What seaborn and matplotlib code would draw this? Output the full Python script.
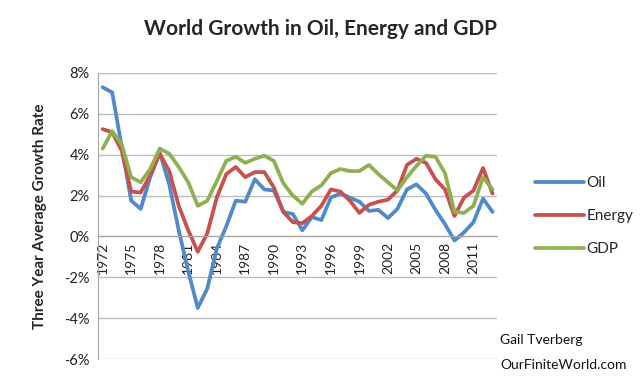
import numpy as np
import pandas as pd
import matplotlib
matplotlib.use("Agg")
import matplotlib.pyplot as plt
import seaborn as sns

# values (three year average growth, %)
years = list(range(1972, 2014))
oil = [7.3, 7.05, 4.4, 1.75, 1.35, 2.9, 4.1, 2.55, 0.3, -1.7,
       -3.5, -2.55, -0.6, 0.5, 1.75, 1.7, 2.8, 2.3, 2.25, 1.2,
       1.1, 0.3, 0.95, 0.8, 1.9, 2.1, 1.9, 1.7, 1.25, 1.3,
       0.9, 1.35, 2.3, 2.55, 2.1, 1.3, 0.6, -0.2, 0.2, 0.7,
       1.85, 1.2]
energy = [5.25, 5.1, 4.2, 2.2, 2.15, 3.0, 4.05, 3.2, 1.5, 0.3,
          -0.75, 0.15, 1.9, 3.05, 3.4, 2.9, 3.15, 3.15, 2.4, 1.2,
          0.7, 0.65, 1.0, 1.5, 2.3, 2.2, 1.75, 1.15, 1.55, 1.7,
          1.8, 2.25, 3.5, 3.8, 3.6, 2.8, 2.3, 1.0, 1.9, 2.25,
          3.35, 2.1]
gdp = [4.3, 5.15, 4.5, 2.9, 2.65, 3.3, 4.3, 4.05, 3.4, 2.65,
       1.5, 1.75, 2.7, 3.7, 3.9, 3.6, 3.8, 3.95, 3.7, 2.6,
       2.0, 1.6, 2.2, 2.5, 3.1, 3.3, 3.2, 3.2, 3.5, 3.05,
       2.65, 2.25, 2.9, 3.45, 3.95, 3.9, 3.1, 1.2, 1.15, 1.5,
       2.9, 2.3]
series = ["Oil", "Energy", "GDP"]
colors = ["#4F8ACB", "#C8504D", "#8FB04F"]
yticks = [-6, -4, -2, 0, 2, 4, 6, 8]

df = pd.DataFrame({"year": years, "Oil": oil, "Energy": energy, "GDP": gdp})
long = df.melt(id_vars="year", var_name="series", value_name="growth")

sns.set_style("white")
plt.rcParams["font.family"] = ["Lato", "DejaVu Sans"]

fig = plt.figure(figsize=(6.4, 3.82), dpi=100)
ax = fig.add_axes([0.153, 0.060, 0.624, 0.749])

sns.lineplot(data=long, x="year", y="growth", hue="series", hue_order=series,
             palette=colors, linewidth=2.7, ax=ax)

ax.set_xlim(years[0] - 0.5, years[-1] + 0.5)
ax.set_ylim(-6, 8)
ax.set_yticks(yticks)
ax.set_yticklabels([f"{v}%" for v in yticks], fontsize=10.5, color="#222222")
ax.yaxis.grid(True, color="#BDBDBD", linewidth=1.0)
ax.set_axisbelow(True)

# category axis crossing at 0 with tick marks between categories
ax.spines["bottom"].set_position(("data", 0))
for s in ["top", "right"]:
    ax.spines[s].set_visible(False)
ax.spines["bottom"].set_color("#A6A6A6")
ax.spines["left"].set_color("#A6A6A6")
ax.set_xticks(years[::3])
ax.set_xticklabels([str(y) for y in years[::3]], rotation=90, fontsize=10,
                   color="#222222")
ax.set_xticks(np.arange(years[0] - 0.5, years[-1] + 1.0, 1.0), minor=True)
ax.tick_params(axis="x", which="major", length=0, pad=4)
ax.tick_params(axis="x", which="minor", length=5, color="#A6A6A6",
               direction="out")
ax.tick_params(axis="y", length=0, pad=6)

ax.set_xlabel("")
ax.set_ylabel("Three Year Average Growth Rate", fontsize=11, fontweight="bold",
              labelpad=12)

ax.legend(loc="upper left", bbox_to_anchor=(0.815, 0.575),
          bbox_transform=fig.transFigure, frameon=False, fontsize=11,
          handlelength=3.2, labelspacing=1.25, handletextpad=0.15)

fig.suptitle("World Growth in Oil, Energy and GDP", fontsize=15,
             fontweight="bold", x=0.5, y=0.95)
fig.text(0.782, 0.1, "Gail Tverberg", fontsize=10, color="#111111")
fig.text(0.782, 0.033, "OurFiniteWorld.com", fontsize=10, color="#111111")

fig.savefig("out.png", dpi=100)
